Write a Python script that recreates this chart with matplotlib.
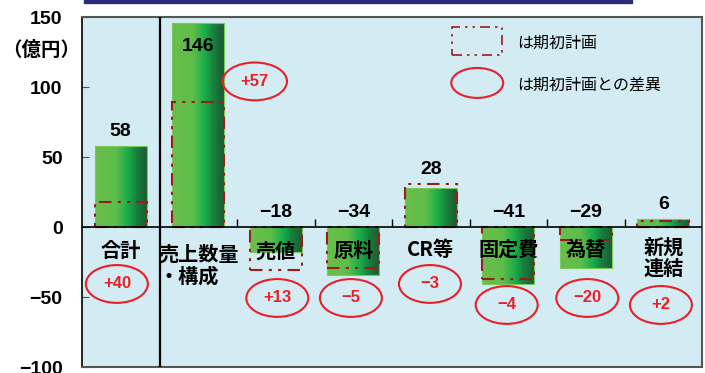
import matplotlib.pyplot as plt
import numpy as np
from matplotlib.colors import LinearSegmentedColormap
from matplotlib.patches import Ellipse, Rectangle

# ---------------------------------------------------------------------------
# Data (億円)
# ---------------------------------------------------------------------------

categories = ["合計", "売上数量\n・構成", "売値", "原料", "CR等", "固定費", "為替", "新規\n連結"]
actual = [58, 146, -18, -34, 28, -41, -29, 6]
plan = [18, 89, -31, -29, 31, -37, -9, 4]
diff_labels = ["+40", "+57", "+13", "−5", "−3", "−4", "−20", "+2"]

# where each difference bubble sits (category offset, value)
bubble_x = [-0.05, 1.73, 2.02, 2.97, 3.99, 4.98, 6.02, 6.97]
bubble_y = [-40.7, 104, -50.7, -50.7, -40.7, -55.7, -50.7, -55.7]
label_y = [-17, -27, -17, -17, -16, -16, -16, -22]

# ---------------------------------------------------------------------------
# Style
# ---------------------------------------------------------------------------

NUM_FONT = ["Liberation Sans", "Noto Sans CJK JP"]
JP_FONT = ["Noto Sans CJK JP", "DejaVu Sans"]
BG = "#d3ebf2"
PLAN_RED = "#9b1c1c"
DIFF_RED = "#e8202a"
BAR_W = 0.67

green_cmap = LinearSegmentedColormap.from_list(
    "bar_green",
    [(0.0, "#6abf4b"), (0.40, "#5fbd49"), (0.62, "#1bb04b"), (0.8, "#17813c"), (1.0, "#1e5a33")],
)
gradient = np.linspace(0, 1, 256).reshape(1, -1)

fig = plt.figure(figsize=(7.05, 3.73), dpi=100)
ax = fig.add_axes([82 / 705, 1 - 367 / 373, 620 / 705, 350 / 373])
ax.set_facecolor(BG)

# navy band above the plot
fig.patches.append(Rectangle((84 / 705, 1 - 3 / 373), 548 / 705, 3 / 373,
                             transform=fig.transFigure, color="#2b2b7b", zorder=0))

ax.set_xlim(-0.5, len(categories) - 0.5)
ax.set_ylim(-100, 150)

# bars with horizontal green gradient
for i, v in enumerate(actual):
    rect = Rectangle((i - BAR_W / 2, min(0, v)), BAR_W, abs(v),
                     facecolor="none", edgecolor="#7cc85a", lw=0.8, zorder=3)
    ax.add_patch(rect)
    im = ax.imshow(gradient, cmap=green_cmap, aspect="auto",
                   extent=(i - BAR_W / 2, i + BAR_W / 2, min(0, v), max(0, v)),
                   zorder=2)
    im.set_clip_path(rect)

# initial plan outlines
for i, p in enumerate(plan):
    ax.add_patch(Rectangle((i - BAR_W / 2, min(0, p)), BAR_W, abs(p),
                           facecolor="none", edgecolor=PLAN_RED, lw=1.5,
                           linestyle=(0, (6, 3, 1.5, 3, 1.5, 3)), zorder=4))

# value labels
for i, v in enumerate(actual):
    txt = str(v).replace("-", "−")
    if v > 120:
        ax.text(i, v - 17, txt, ha="center", va="center", fontsize=14,
                fontweight="bold", family=NUM_FONT, zorder=6)
    else:
        top = max(v, plan[i], 0)
        ax.text(i, top + 4, txt, ha="center", va="bottom", fontsize=14,
                fontweight="bold", family=NUM_FONT, zorder=6)

# category labels under the zero line
for i, (name, y) in enumerate(zip(categories, label_y)):
    ax.text(i, y, name, ha="center", va="center", fontsize=14.5,
            fontweight="bold", family=JP_FONT, multialignment="left",
            linespacing=1.05, zorder=6)

# difference bubbles
for x, y, d in zip(bubble_x, bubble_y, diff_labels):
    w = 0.83 if y > 0 else 0.8
    ax.add_patch(Ellipse((x, y), w, 27, facecolor="none", edgecolor=DIFF_RED,
                         lw=1.5, zorder=5))
    ax.text(x, y, d, ha="center", va="center", fontsize=12, color=DIFF_RED,
            fontweight="bold", family=NUM_FONT, zorder=6)

# legend drawn by hand
ax.add_patch(Rectangle((4.27, 122.9), 0.65, 20, facecolor="none", edgecolor=PLAN_RED,
                       lw=1.2, linestyle=(0, (6, 3, 1.5, 3, 1.5, 3)), zorder=5))
ax.add_patch(Ellipse((4.60, 102.9), 0.67, 21.4, facecolor="none", edgecolor=DIFF_RED,
                     lw=1.5, zorder=5))
ax.text(5.11, 131, "は期初計画", ha="left", va="center", fontsize=11.5, family=JP_FONT)
ax.text(5.11, 101.5, "は期初計画との差異", ha="left", va="center", fontsize=11.5, family=JP_FONT)

# zero line, separator after the total and small ticks between categories
ax.axhline(0, color="black", lw=1.2, zorder=4)
ax.axvline(0.5, color="black", lw=1.6, zorder=4)
ax.vlines(np.arange(1.5, len(categories) - 0.5), 0, 5.5, color="black", lw=1, zorder=4)

ax.set_xticks([])
ax.set_yticks(np.arange(-100, 151, 50))
ax.set_yticklabels([str(t).replace("-", "−") for t in range(-100, 151, 50)],
                   fontsize=14, fontweight="bold", family=NUM_FONT)
ax.tick_params(axis="y", direction="in", length=5, pad=14, color="#555555")

for side in ["top", "right", "bottom"]:
    ax.spines[side].set_color("#555555")
    ax.spines[side].set_linewidth(1.5)
ax.spines["left"].set_color("black")
ax.spines["left"].set_linewidth(1.2)

fig.text(41 / 705, 1 - 50 / 373, "（億円）", ha="center", va="center", fontsize=14,
         fontweight="bold", family=JP_FONT)

fig.savefig("out.png", dpi=100)
